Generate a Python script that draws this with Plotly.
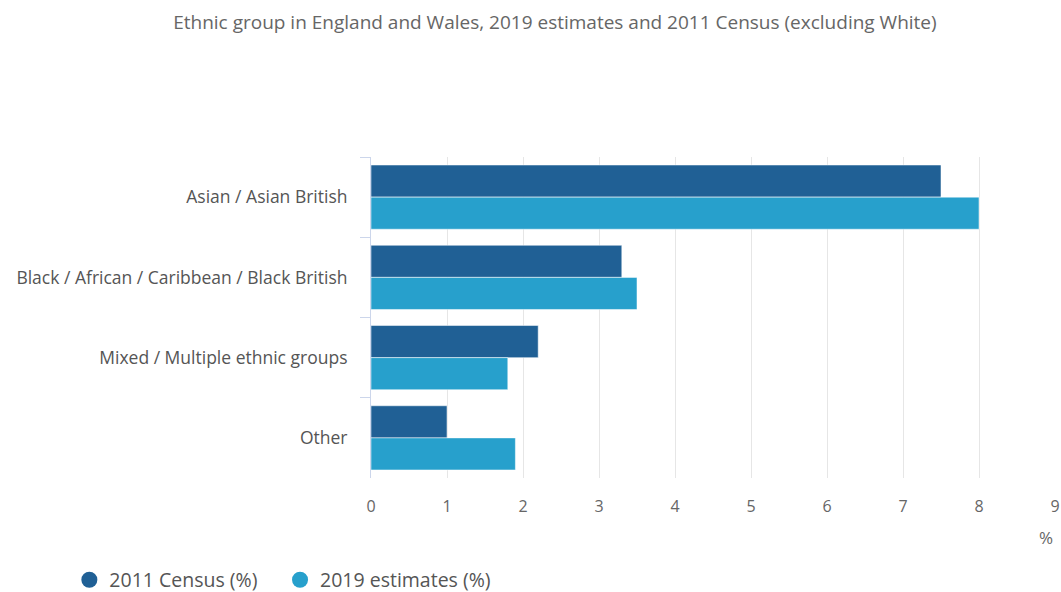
import plotly.graph_objects as go

categories = ["Asian / Asian British", "Black / African / Caribbean / Black British",
              "Mixed / Multiple ethnic groups", "Other"]
census_2011 = [7.5, 3.3, 2.2, 1.0]
estimates_2019 = [8.0, 3.5, 1.8, 1.9]
series_names = ["2011 Census (%)", "2019 estimates (%)"]
colors = ["#206095", "#27a0cc"]
x_ticks = [0, 1, 2, 3, 4, 5, 6, 7, 8, 9]

fig = go.Figure()
for name, vals, col in zip(series_names, [census_2011, estimates_2019], colors):
    fig.add_trace(go.Bar(y=categories, x=vals, orientation="h", name=name,
                         marker=dict(color=col, line=dict(color="rgba(255,255,255,0.5)", width=1)),
                         showlegend=False))
for name, col, lg in zip(series_names, colors, ["legend", "legend2"]):
    fig.add_trace(go.Scatter(x=[None], y=[None], mode="markers", name=name, legend=lg,
                             marker=dict(color=col, size=18, symbol="circle")))

legend_style = dict(orientation="v", y=-0.318, yanchor="middle", xanchor="left",
                    font=dict(size=19.5, color="#555555"), itemsizing="trace",
                    itemwidth=30, bgcolor="rgba(0,0,0,0)", borderwidth=0)

fig.update_layout(
    width=1061, height=592,
    margin=dict(l=371, r=6, t=157, b=114, autoexpand=False),
    paper_bgcolor="white", plot_bgcolor="white",
    font=dict(family="Open Sans", color="#666666"),
    title=dict(text="Ethnic group in England and Wales, 2019 estimates and 2011 Census (excluding White)",
               x=0.523, xanchor="center", y=0.963, yanchor="middle",
               font=dict(size=19, color="#666666")),
    barmode="group", bargap=0.2, bargroupgap=0,
    showlegend=True,
    legend=dict(x=-0.441, **legend_style),
    legend2=dict(x=-0.133, **legend_style),
)
fig.update_xaxes(range=[0, 9], tickvals=x_ticks, showgrid=True, gridcolor="#e6e6e6",
                 zeroline=False, showline=False, ticks="", tickfont=dict(size=16, color="#666666"),
                 ticklabelstandoff=17, automargin=False)
fig.update_yaxes(autorange="reversed", showline=True, linecolor="#ccd6eb", linewidth=1,
                 ticks="outside", tickson="boundaries", ticklen=10, tickcolor="#ccd6eb",
                 tickfont=dict(size=17.5, color="#555555"), showgrid=False, ticklabelstandoff=19,
                 automargin=False)
fig.add_annotation(text="%", xref="x", x=9, xanchor="right", yref="paper", y=-0.184,
                   yanchor="middle", showarrow=False, font=dict(size=17, color="#666666"))
fig.write_html("out.html")
